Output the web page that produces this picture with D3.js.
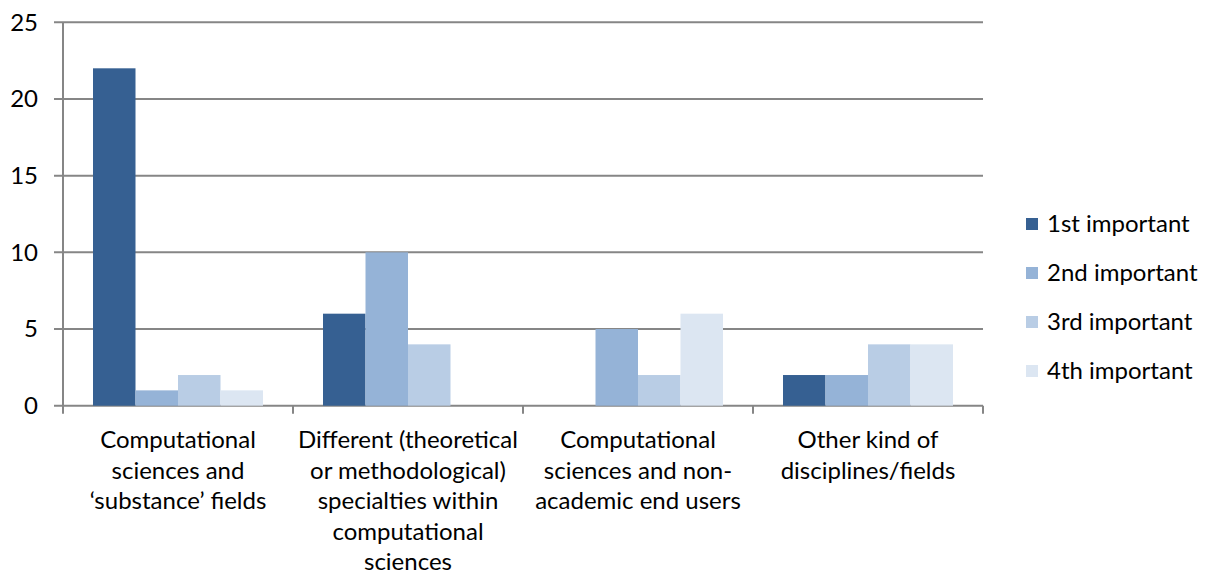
<!DOCTYPE html>
<html><head><meta charset="utf-8">
<script src="https://cdn.jsdelivr.net/npm/d3@7"></script>
<style>body{margin:0;background:#fff}svg{display:block}text{font-family:Lato,"Open Sans",sans-serif;fill:#000}</style>
</head><body><svg id="c" width="1208" height="580"></svg>
<script>
const categories = [
  ["Computational","sciences and","‘substance’ fields"],
  ["Different (theoretical","or methodological)","specialties within","computational","sciences"],
  ["Computational","sciences and non-","academic end users"],
  ["Other kind of","disciplines/fields"]
];
const seriesNames = ["1st important","2nd important","3rd important","4th important"];
const s1 = [22, 6, 0, 2];
const s2 = [1, 10, 5, 2];
const s3 = [2, 4, 2, 4];
const s4 = [1, 0, 6, 4];
const yTicks = [0,5,10,15,20,25];
const colors = ["#366092","#95B3D7","#B9CDE5","#DCE6F2"];
const series = [s1,s2,s3,s4];

const svg = d3.select("#c");
const L=63, R=983, T=22.3, B=405.7;
const fs = 24;
const x0 = d3.scaleBand().domain(d3.range(categories.length)).range([L,R]).padding(0);
const pad = 30;
const x1 = d3.scaleBand().domain(d3.range(series.length)).range([pad, x0.bandwidth()-pad]).padding(0);
const y = d3.scaleLinear().domain([0,25]).range([B,T]);

svg.append("g").selectAll("line").data(yTicks).join("line")
  .attr("x1",L-9).attr("x2",R).attr("y1",d=>y(d)).attr("y2",d=>y(d))
  .attr("stroke","#868686").attr("stroke-width",2);
svg.append("line").attr("x1",L).attr("x2",L).attr("y1",T).attr("y2",B)
  .attr("stroke","#868686").attr("stroke-width",2);
svg.append("g").selectAll("line").data(d3.range(categories.length+1)).join("line")
  .attr("x1",d=>L+d*x0.bandwidth()).attr("x2",d=>L+d*x0.bandwidth())
  .attr("y1",B).attr("y2",B+8).attr("stroke","#868686").attr("stroke-width",2);
svg.append("g").selectAll("text").data(yTicks).join("text")
  .attr("x",38).attr("y",d=>y(d)).attr("dy","0.35em").attr("text-anchor","end")
  .style("font-size",fs+"px").text(d=>d);
const g = svg.append("g");
categories.forEach((c,i)=>{
  series.forEach((s,j)=>{
    g.append("rect").attr("x",x0(i)+x1(j)).attr("width",x1.bandwidth())
      .attr("y",y(s[i])).attr("height",B-y(s[i])).attr("fill",colors[j]);
  });
});
categories.forEach((lines,i)=>{
  const t = svg.append("text").attr("text-anchor","middle").style("font-size",fs+"px");
  lines.forEach((ln,k)=>{
    t.append("tspan").attr("x",x0(i)+x0.bandwidth()/2).attr("y",448+k*30.5).text(ln);
  });
});
const lg = svg.append("g");
seriesNames.forEach((n,j)=>{
  const cy = 224 + j*49;
  lg.append("rect").attr("x",1026).attr("y",cy-6).attr("width",12).attr("height",12).attr("fill",colors[j]);
  lg.append("text").attr("x",1047).attr("y",cy).attr("dy","0.35em").style("font-size",fs+"px").text(n);
});
</script></body></html>
